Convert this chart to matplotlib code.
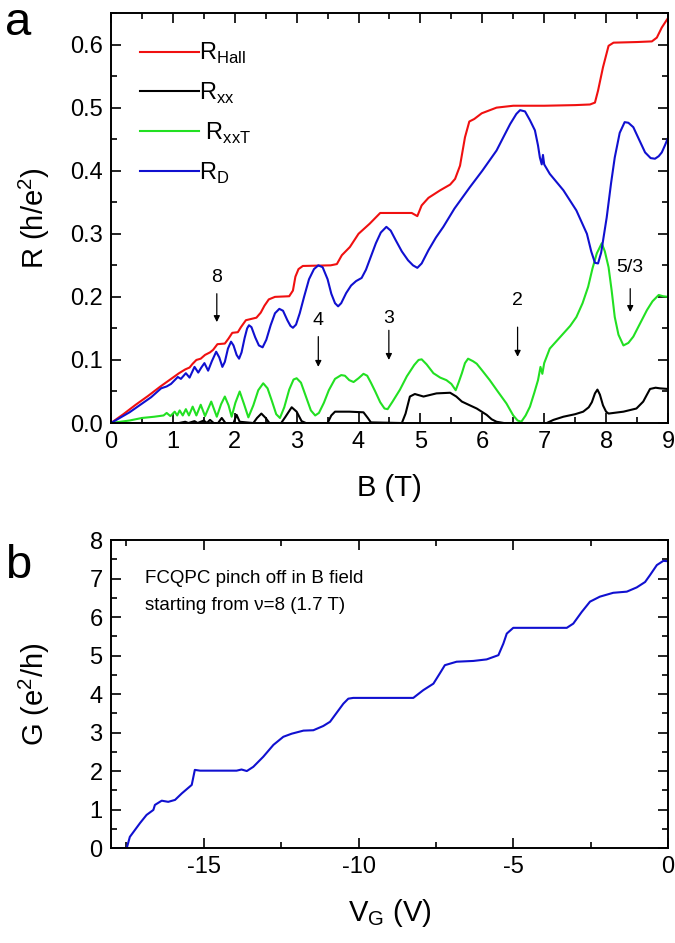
import matplotlib
matplotlib.use("Agg")
import matplotlib.pyplot as plt
from matplotlib.ticker import MultipleLocator, FormatStrFormatter

plt.rcParams['font.family'] = ['Liberation Sans', 'DejaVu Sans']
plt.rcParams['axes.unicode_minus'] = False

# ---------------- data: panel a ----------------
B_hall = [0, 0.2, 0.4, 0.6, 0.8, 1.0, 1.1, 1.15, 1.2, 1.27, 1.32, 1.38, 1.45, 1.52, 1.6,
          1.65, 1.72, 1.84, 1.9, 1.96, 2.05, 2.1, 2.18, 2.35, 2.42, 2.48, 2.55, 2.65, 2.88,
          2.94, 2.98, 3.03, 3.1, 3.55, 3.65, 3.73, 3.86, 4.0, 4.18, 4.35, 4.86, 4.95, 5.02,
          5.13, 5.32, 5.48, 5.56, 5.64, 5.72, 5.79, 5.87, 5.99, 6.23, 6.5, 7.0, 7.5, 7.74,
          7.82, 7.87, 7.95, 8.04, 8.12, 8.5, 8.74, 8.82, 8.9, 9.0]
R_hall = [0, 0.014, 0.029, 0.043, 0.058, 0.072, 0.079, 0.082, 0.085, 0.088, 0.094, 0.1,
          0.102, 0.108, 0.112, 0.116, 0.125, 0.126, 0.134, 0.143, 0.144, 0.152, 0.163, 0.167,
          0.175, 0.186, 0.196, 0.2, 0.201, 0.21, 0.232, 0.244, 0.249, 0.25, 0.252, 0.266,
          0.279, 0.3, 0.316, 0.333, 0.333, 0.328, 0.345, 0.357, 0.369, 0.378, 0.387, 0.408,
          0.453, 0.478, 0.482, 0.491, 0.5, 0.503, 0.503, 0.504, 0.505, 0.508, 0.527, 0.564,
          0.598, 0.603, 0.604, 0.605, 0.611, 0.627, 0.642]

B_xx = [0, 1.1, 1.2, 1.25, 1.35, 1.4, 1.5, 1.55, 1.6, 1.66, 1.73, 1.79, 1.85, 1.98, 2.03,
        2.08, 2.3, 2.36, 2.43, 2.5, 2.56, 2.75, 2.82, 2.92, 3.0, 3.08, 3.15, 3.5, 3.56, 3.62,
        3.85, 4.08, 4.15, 4.2, 4.7, 4.76, 4.83, 4.91, 5.05, 5.26, 5.48, 5.58, 5.67, 5.8,
        5.91, 6.07, 6.15, 6.23, 6.35, 7.04, 7.15, 7.31, 7.5, 7.63, 7.72, 7.77, 7.82, 7.86,
        7.9, 7.95, 8.0, 8.04, 8.28, 8.49, 8.6, 8.66, 8.71, 8.8, 8.87, 9.0]
R_xx = [0, 0, 0.002, 0, 0.003, 0, 0.004, 0, 0.005, 0, 0, 0.008, 0, 0, 0.013, 0.002, 0,
        0.008, 0.015, 0.008, 0, 0, 0.01, 0.025, 0.018, 0.003, 0, 0, 0.012, 0.018, 0.018,
        0.017, 0.008, 0.001, 0, 0.015, 0.042, 0.046, 0.042, 0.047, 0.048, 0.042, 0.034,
        0.028, 0.023, 0.013, 0.006, 0.002, 0, 0, 0.005, 0.01, 0.014, 0.018, 0.025, 0.033,
        0.047, 0.053, 0.045, 0.028, 0.018, 0.015, 0.018, 0.023, 0.034, 0.045, 0.054, 0.056,
        0.055, 0.054]

B_xxT = [0, 0.3, 0.5, 0.7, 0.85, 0.9, 0.96, 1.03, 1.07, 1.11, 1.16, 1.21, 1.26, 1.32, 1.38,
         1.45, 1.52, 1.62, 1.71, 1.78, 1.84, 1.9, 1.95, 2.01, 2.08, 2.15, 2.22, 2.3, 2.38,
         2.46, 2.53, 2.6, 2.67, 2.73, 2.8, 2.88, 2.95, 3.0, 3.07, 3.15, 3.23, 3.3, 3.36, 3.44,
         3.52, 3.62, 3.72, 3.78, 3.85, 3.92, 4.0, 4.08, 4.14, 4.2, 4.27, 4.35, 4.42, 4.47,
         4.55, 4.67, 4.78, 4.9, 4.97, 5.02, 5.1, 5.21, 5.32, 5.42, 5.5, 5.57, 5.62, 5.67,
         5.72, 5.77, 5.85, 5.91, 6.0, 6.12, 6.25, 6.39, 6.5, 6.57, 6.63, 6.7, 6.77, 6.84,
         6.9, 6.94, 6.97, 7.0, 7.09, 7.2, 7.31, 7.42, 7.52, 7.62, 7.71, 7.78, 7.85, 7.93,
         7.98, 8.04, 8.09, 8.14, 8.2, 8.28, 8.36, 8.44, 8.55, 8.66, 8.75, 8.85, 8.92, 9.0]
R_xxT = [0, 0.004, 0.008, 0.01, 0.012, 0.016, 0.011, 0.018, 0.012, 0.02, 0.012, 0.022,
         0.012, 0.026, 0.012, 0.029, 0.011, 0.034, 0.01, 0.03, 0.042, 0.028, 0.01, 0.032,
         0.05, 0.03, 0.009, 0.028, 0.052, 0.063, 0.055, 0.035, 0.014, 0.008, 0.025, 0.053,
         0.069, 0.071, 0.064, 0.042, 0.02, 0.012, 0.016, 0.032, 0.052, 0.07, 0.076, 0.075,
         0.068, 0.065, 0.071, 0.078, 0.075, 0.064, 0.05, 0.033, 0.023, 0.022, 0.034, 0.053,
         0.074, 0.092, 0.1, 0.101, 0.093, 0.079, 0.072, 0.068, 0.062, 0.052, 0.065, 0.079,
         0.095, 0.102, 0.098, 0.094, 0.083, 0.068, 0.05, 0.031, 0.012, 0.004, 0.002, 0.012,
         0.026, 0.048, 0.068, 0.089, 0.078, 0.095, 0.118, 0.13, 0.142, 0.154, 0.168, 0.19,
         0.216, 0.245, 0.269, 0.285, 0.272, 0.247, 0.21, 0.168, 0.14, 0.123, 0.127, 0.137,
         0.158, 0.179, 0.193, 0.203, 0.201, 0.2]

B_D = [0, 0.3, 0.65, 0.81, 0.9, 0.97, 1.03, 1.08, 1.13, 1.21, 1.27, 1.35, 1.41, 1.46, 1.51,
       1.57, 1.63, 1.7, 1.75, 1.8, 1.84, 1.89, 1.94, 1.98, 2.03, 2.07, 2.11, 2.16, 2.2, 2.23,
       2.27, 2.33, 2.39, 2.45, 2.51, 2.58, 2.65, 2.72, 2.78, 2.85, 2.9, 2.94, 2.99, 3.05,
       3.12, 3.2, 3.28, 3.35, 3.42, 3.5, 3.56, 3.62, 3.67, 3.72, 3.8, 3.88, 3.96, 4.05, 4.12,
       4.2, 4.28, 4.36, 4.45, 4.52, 4.6, 4.7, 4.8, 4.88, 4.95, 5.02, 5.13, 5.25, 5.37, 5.55,
       5.8, 6.0, 6.23, 6.35, 6.45, 6.55, 6.61, 6.69, 6.77, 6.85, 6.9, 6.93, 6.96, 6.98, 7.0,
       7.03, 7.09, 7.31, 7.52, 7.69, 7.76, 7.82, 7.87, 7.92, 8.01, 8.08, 8.14, 8.22, 8.3,
       8.36, 8.44, 8.53, 8.63, 8.72, 8.79, 8.85, 8.9, 8.95, 9.0]
R_D = [0, 0.017, 0.041, 0.055, 0.058, 0.062, 0.068, 0.073, 0.07, 0.079, 0.072, 0.089, 0.08,
       0.088, 0.095, 0.083, 0.098, 0.113, 0.104, 0.089, 0.097, 0.118, 0.129, 0.123, 0.108,
       0.102, 0.112, 0.135, 0.15, 0.155, 0.152, 0.136, 0.123, 0.12, 0.132, 0.155, 0.174,
       0.181, 0.178, 0.163, 0.154, 0.151, 0.156, 0.174, 0.2, 0.228, 0.244, 0.25, 0.247,
       0.228, 0.205, 0.19, 0.185, 0.19, 0.206, 0.218, 0.225, 0.23, 0.243, 0.264, 0.285,
       0.302, 0.311, 0.305, 0.29, 0.272, 0.258, 0.25, 0.246, 0.253, 0.274, 0.294, 0.311,
       0.34, 0.374, 0.4, 0.432, 0.455, 0.474, 0.49, 0.496, 0.494, 0.48, 0.464, 0.44, 0.421,
       0.41, 0.425, 0.41, 0.405, 0.395, 0.369, 0.337, 0.3, 0.272, 0.254, 0.253, 0.27, 0.326,
       0.38, 0.421, 0.46, 0.477, 0.476, 0.469, 0.45, 0.429, 0.42, 0.419, 0.423, 0.429, 0.44,
       0.452]

# filling-factor annotations: label, B position, text height, arrow top, arrow tip
nu_labels = ['8', '4', '3', '2', '5/3']
nu_B = [1.71, 3.35, 4.49, 6.57, 8.39]
nu_text_R = [0.231, 0.163, 0.166, 0.195, 0.247]
nu_arrow_top = [0.205, 0.137, 0.147, 0.152, 0.213]
nu_arrow_tip = [0.16, 0.089, 0.10, 0.105, 0.176]

# ---------------- data: panel b ----------------
V_G = [-18.0, -17.49, -17.39, -17.06, -16.85, -16.63, -16.58, -16.36, -16.15, -15.93,
       -15.71, -15.39, -15.29, -15.12, -13.94, -13.78, -13.61, -13.40, -13.08, -12.75,
       -12.43, -12.16, -11.78, -11.46, -11.14, -10.92, -10.71, -10.49, -10.33, -10.17,
       -8.23, -7.91, -7.58, -7.37, -7.21, -6.83, -6.29, -5.86, -5.48, -5.32, -5.21, -5.00,
       -3.27, -3.06, -2.79, -2.52, -2.20, -1.77, -1.33, -1.01, -0.74, -0.58, -0.36, -0.15,
       0.0]
G = [0.0, 0.0, 0.29, 0.65, 0.86, 0.99, 1.12, 1.23, 1.2, 1.25, 1.42, 1.64, 2.03, 2.01,
     2.01, 2.04, 2.0, 2.11, 2.37, 2.68, 2.89, 2.97, 3.05, 3.06, 3.17, 3.28, 3.51, 3.75,
     3.88, 3.9, 3.9, 4.10, 4.27, 4.54, 4.75, 4.84, 4.86, 4.90, 5.01, 5.31, 5.57, 5.72,
     5.72, 5.83, 6.13, 6.40, 6.53, 6.63, 6.66, 6.77, 6.91, 7.09, 7.35, 7.46, 7.45]

RED = '#f01010'
BLACK = '#000000'
GREEN = '#22e022'
BLUE = '#1010d0'

fig = plt.figure(figsize=(6.75, 9.43), dpi=100)
ax1 = fig.add_axes([0.1644, 0.5514, 0.8252, 0.4348])
ax2 = fig.add_axes([0.1644, 0.1007, 0.8252, 0.3266])

lw = 1.5
ax1.plot(B_hall, R_hall, color=RED, lw=lw, label=r'R$_{\mathregular{Hall}}$')
ax1.plot(B_xx, R_xx, color=BLACK, lw=lw, label=r'R$_{\mathregular{xx}}$')
ax1.plot(B_xxT, R_xxT, color=GREEN, lw=lw, label=r' R$_{\mathregular{xxT}}$')
ax1.plot(B_D, R_D, color=BLUE, lw=lw, label=r'R$_{\mathregular{D}}$')

for lab, b, rt, ra, rb in zip(nu_labels, nu_B, nu_text_R, nu_arrow_top, nu_arrow_tip):
    ax1.text(b, rt, lab, ha='center', va='center', fontsize=14)
    ax1.annotate('', xy=(b, rb), xytext=(b, ra),
                 arrowprops=dict(arrowstyle='-|>', color='k', lw=0.9,
                                 mutation_scale=9, shrinkA=0, shrinkB=0))

ax1.set_xlim(0, 9)
ax1.set_ylim(0, 0.65)
ax1.xaxis.set_major_locator(MultipleLocator(1))
ax1.xaxis.set_minor_locator(MultipleLocator(0.5))
ax1.yaxis.set_major_locator(MultipleLocator(0.1))
ax1.yaxis.set_minor_locator(MultipleLocator(0.05))
ax1.yaxis.set_major_formatter(FormatStrFormatter('%.1f'))
ax1.set_xlabel('B (T)', fontsize=21)
ax1.set_ylabel(r'R (h/e$^{\mathregular{2}}$)', fontsize=21)
ax1.xaxis.set_label_coords(0.5, -0.125)
ax1.yaxis.set_label_coords(-0.105, 0.5)

leg = ax1.legend(loc='upper left', bbox_to_anchor=(0.035, 0.955), frameon=False,
                 fontsize=17, handlelength=2.5, handletextpad=0.0,
                 labelspacing=0.62, borderaxespad=0.0)

ax2.plot(V_G, G, color=BLUE, lw=lw)
ax2.set_xlim(-18, 0)
ax2.set_ylim(0, 8)
ax2.xaxis.set_major_locator(MultipleLocator(5))
ax2.xaxis.set_minor_locator(MultipleLocator(2.5))
ax2.yaxis.set_major_locator(MultipleLocator(1))
ax2.yaxis.set_minor_locator(MultipleLocator(0.5))
ax2.set_xlabel(r'V$_{\mathregular{G}}$ (V)', fontsize=21)
ax2.set_ylabel(r'G (e$^{\mathregular{2}}$/h)', fontsize=21)
ax2.xaxis.set_label_coords(0.5, -0.16)
ax2.yaxis.set_label_coords(-0.105, 0.5)
ax2.text(-16.9, 7.01, 'FCQPC pinch off in B field', fontsize=13.5, va='center', ha='left')
ax2.text(-16.9, 6.31, 'starting from \u03bd=8 (1.7 T)', fontsize=13.5, va='center', ha='left')

for ax in (ax1, ax2):
    ax.tick_params(which='both', direction='in', top=True, right=True, labelsize=17,
                   width=1.2, pad=6)
    ax.tick_params(which='major', length=7)
    ax.tick_params(which='minor', length=4)
    for s in ax.spines.values():
        s.set_linewidth(1.4)

fig.text(0.008, 0.999, 'a', fontsize=34, ha='left', va='top')
fig.text(0.008, 0.423, 'b', fontsize=34, ha='left', va='top')

fig.savefig('out.png', dpi=100)
